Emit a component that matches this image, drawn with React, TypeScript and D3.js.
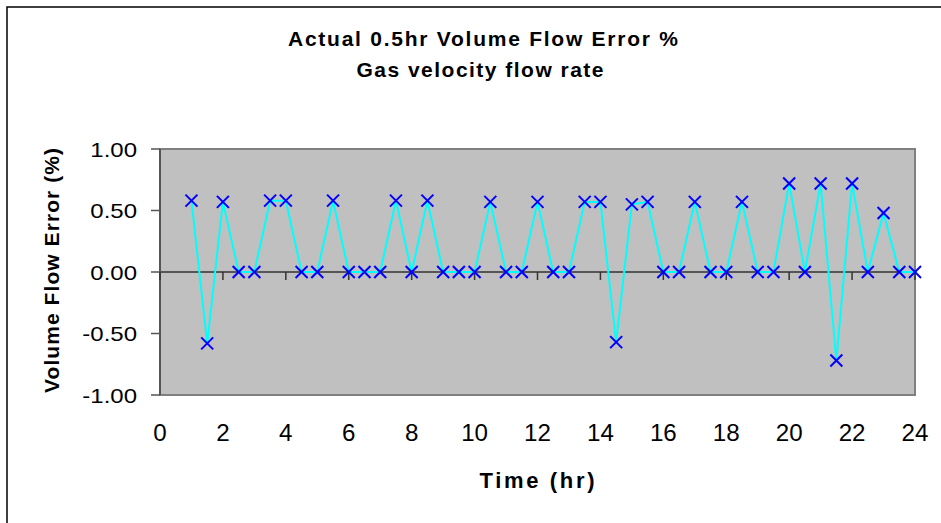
import React from "react";
import * as d3 from "d3";

const times = [1, 1.5, 2, 2.5, 3, 3.5, 4, 4.5, 5, 5.5, 6, 6.5, 7, 7.5, 8, 8.5, 9, 9.5, 10, 10.5, 11, 11.5, 12, 12.5, 13, 13.5, 14, 14.5, 15, 15.5, 16, 16.5, 17, 17.5, 18, 18.5, 19, 19.5, 20, 20.5, 21, 21.5, 22, 22.5, 23, 23.5, 24];
const errors = [0.58, -0.58, 0.57, 0, 0, 0.58, 0.58, 0, 0, 0.58, 0, 0, 0, 0.58, 0, 0.58, 0, 0, 0, 0.57, 0, 0, 0.57, 0, 0, 0.57, 0.57, -0.57, 0.55, 0.57, 0, 0, 0.57, 0, 0, 0.57, 0, 0, 0.72, 0, 0.72, -0.72, 0.72, 0, 0.48, 0, 0];
const xTicks = [0, 2, 4, 6, 8, 10, 12, 14, 16, 18, 20, 22, 24];
const yTicks = [1, 0.5, 0, -0.5, -1];
const titleLines = ["Actual 0.5hr Volume Flow Error %", "Gas velocity flow rate"];
const xTitle = "Time  (hr)";
const yTitle = "Volume Flow Error  (%)";

export default function App() {
  const W = 941, H = 523;
  const left = 160, right = 915, top = 149, bottom = 395;
  const x = d3.scaleLinear().domain([0, 24]).range([left, right]);
  const y = d3.scaleLinear().domain([-1, 1]).range([bottom, top]);
  const pts = times.map((t, i) => [t, errors[i]] as [number, number]);
  const line = d3.line<[number, number]>().x(d => x(d[0])).y(d => y(d[1]));
  const font = "'Liberation Sans', Arial, sans-serif";
  const fmt = (v: number) => d3.format(".2f")(v).replace("\u2212", "-");
  const m = 6;
  return (
    <svg width={W} height={H} style={{ position: "absolute", left: 0, top: 0, background: "#fff" }} fontFamily={font}>
      <rect x={7} y={7} width={W + 50} height={H + 50} fill="#fff" stroke="#000" strokeWidth={1.5} />
      <text x={483} y={46} textAnchor="middle" fontWeight="bold" fontSize={21} textLength={390} lengthAdjust="spacing">{titleLines[0]}</text>
      <text x={480} y={77} textAnchor="middle" fontWeight="bold" fontSize={21} textLength={247} lengthAdjust="spacing">{titleLines[1]}</text>
      <rect x={left} y={top} width={right - left} height={bottom - top} fill="#c0c0c0" stroke="#808080" strokeWidth={2} />
      <line x1={left} x2={left} y1={top} y2={bottom} stroke="#555" strokeWidth={2} />
      {yTicks.map(v => (
        <g key={v}>
          <line x1={left - 9} x2={left} y1={y(v)} y2={y(v)} stroke="#555" strokeWidth={1.5} />
          <text transform={`translate(137,${y(v) + 7.5}) scale(1.2,1)`} textAnchor="end" fontSize={20}>{fmt(v)}</text>
        </g>
      ))}
      <line x1={left} x2={right} y1={y(0)} y2={y(0)} stroke="#555" strokeWidth={2} />
      {xTicks.map(t => (
        <g key={t}>
          <line x1={x(t)} x2={x(t)} y1={y(0)} y2={y(0) + 8} stroke="#333" strokeWidth={1.5} />
          <text transform={`translate(${x(t)},441) scale(1.05,1)`} textAnchor="middle" fontSize={23}>{t}</text>
        </g>
      ))}
      <path d={line(pts) || ""} fill="none" stroke="#00ffff" strokeWidth={2} />
      {pts.map(([t, v], i) => (
        <g key={i} stroke="#0000ff" strokeWidth={2}>
          <line x1={x(t) - m} x2={x(t) + m} y1={y(v) - m} y2={y(v) + m} />
          <line x1={x(t) - m} x2={x(t) + m} y1={y(v) + m} y2={y(v) - m} />
        </g>
      ))}
      <text x={537} y={488} textAnchor="middle" fontWeight="bold" fontSize={22} textLength={115} lengthAdjust="spacing">{xTitle}</text>
      <text transform={`translate(59,${(148 + 393) / 2}) rotate(-90)`} textAnchor="middle" fontWeight="bold" fontSize={21} textLength={245} lengthAdjust="spacing">{yTitle}</text>
    </svg>
  );
}
